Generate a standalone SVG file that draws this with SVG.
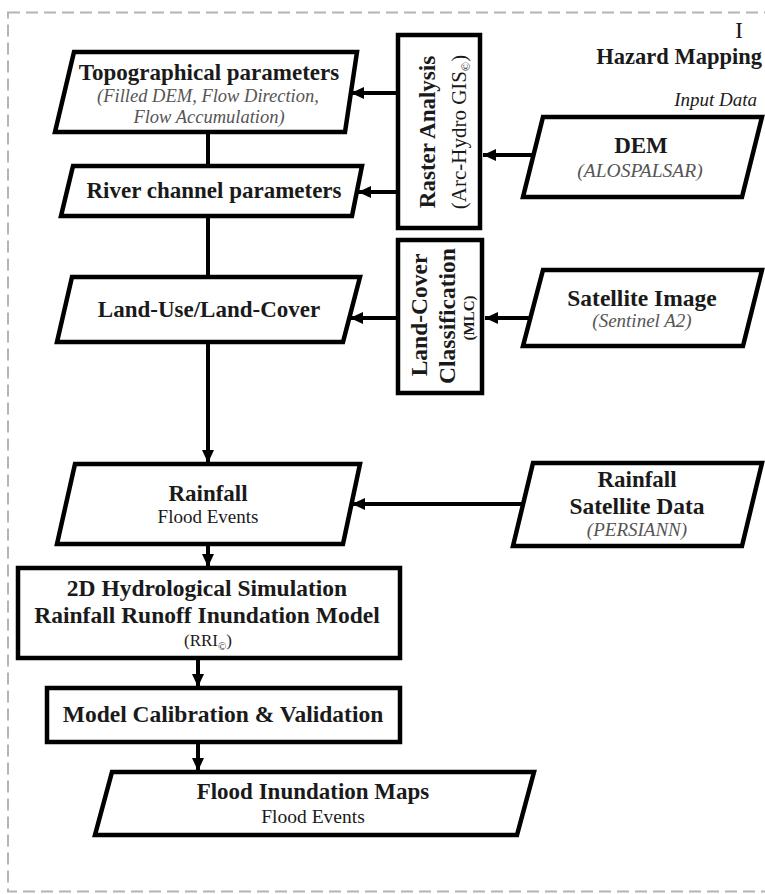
<svg xmlns="http://www.w3.org/2000/svg" width="765" height="894" viewBox="0 0 765 894">
<style>
.frame{fill:none;stroke:#b4b4b4;stroke-width:2;stroke-dasharray:12 6}
.node{fill:#fff;stroke:#000;stroke-width:4.5;stroke-linejoin:miter}
.conn{fill:none;stroke:#000;stroke-width:4}
text{font-family:"Liberation Serif","Times New Roman",serif;fill:#1a1a1a}
.b{font-weight:bold;font-size:23px;text-anchor:middle}
.i{font-style:italic;font-size:19px;fill:#555;text-anchor:middle}
.r{font-size:19px;text-anchor:middle}
</style>
<defs>
<marker id="ah" markerUnits="userSpaceOnUse" markerWidth="14" markerHeight="14" viewBox="0 0 14 14" refX="13" refY="7" orient="auto">
<path d="M0,1 L13,7 L0,13 Z" fill="#000"/>
</marker>
</defs>
<rect class="frame" x="8" y="12.5" width="780" height="879"/>
<g id="title">
<text x="739" y="38" style="font-size:24px;text-anchor:middle">I</text>
<text x="762" y="64" style="font-weight:bold;font-size:22.5px;text-anchor:end">Hazard Mapping</text>
<text x="757" y="106" style="font-style:italic;font-size:19px;text-anchor:end">Input Data</text>
</g>
<g id="connectors">
<line class="conn" x1="208" y1="132" x2="208" y2="166"/>
<line class="conn" x1="208" y1="216" x2="208" y2="277"/>
<line class="conn" x1="208" y1="342" x2="208" y2="463" marker-end="url(#ah)"/>
<line class="conn" x1="208" y1="544" x2="208" y2="567" marker-end="url(#ah)"/>
<line class="conn" x1="198" y1="658" x2="198" y2="687" marker-end="url(#ah)"/>
<line class="conn" x1="198" y1="742" x2="198" y2="771" marker-end="url(#ah)"/>
<line class="conn" x1="398" y1="93" x2="351" y2="93" marker-end="url(#ah)"/>
<line class="conn" x1="398" y1="192" x2="358" y2="192" marker-end="url(#ah)"/>
<line class="conn" x1="533" y1="155" x2="483" y2="155" marker-end="url(#ah)"/>
<line class="conn" x1="530" y1="318" x2="485" y2="318" marker-end="url(#ah)"/>
<line class="conn" x1="398" y1="318" x2="350" y2="318" marker-end="url(#ah)"/>
<line class="conn" x1="523" y1="504" x2="352" y2="504" marker-end="url(#ah)"/>
</g>
<g id="topo">
<polygon class="node" points="74,52 357,52 345,132 55,132"/>
<text class="b" x="209" y="80">Topographical parameters</text>
<text class="i" x="208" y="102" style="font-size:18.5px">(Filled DEM, Flow Direction,</text>
<text class="i" x="209" y="123" style="font-size:18.5px">Flow Accumulation)</text>
</g>
<g id="river">
<polygon class="node" points="73,166 362,166 352,216 61,216"/>
<text class="b" x="214" y="198">River channel parameters</text>
</g>
<g id="landuse">
<polygon class="node" points="72,277 360,277 343,342 57,342"/>
<text class="b" x="209" y="317">Land-Use/Land-Cover</text>
</g>
<g id="rainfall">
<polygon class="node" points="75,464 360,464 343,544 57,544"/>
<text class="b" x="208" y="501">Rainfall</text>
<text class="r" x="208" y="523">Flood Events</text>
</g>
<g id="rri">
<rect class="node" x="18" y="568" width="382" height="90"/>
<text class="b" x="207" y="596" style="font-size:23.5px">2D Hydrological Simulation</text>
<text class="b" x="207" y="623" style="font-size:23.5px">Rainfall Runoff Inundation Model</text>
<text class="r" x="208" y="646" style="font-size:17px">(RRI<tspan style="font-size:11px" baseline-shift="-4">©</tspan>)</text>
</g>
<g id="calibration">
<rect class="node" x="47" y="688" width="353" height="54"/>
<text class="b" x="223" y="722" style="font-size:23.5px">Model Calibration &amp; Validation</text>
</g>
<g id="floodmaps">
<polygon class="node" points="112,772 534,772 517,835 95,835"/>
<text class="b" x="313" y="799">Flood Inundation Maps</text>
<text class="r" x="313" y="823" style="font-size:19.5px">Flood Events</text>
</g>
<g id="raster">
<rect class="node" x="398" y="35" width="82" height="193"/>
<text class="b" transform="translate(435,132) rotate(-90)">Raster Analysis</text>
<text class="r" transform="translate(466,132) rotate(-90)" style="font-size:21px">(Arc-Hydro GIS<tspan style="font-size:12px" baseline-shift="-4">©</tspan>)</text>
</g>
<g id="landcover">
<rect class="node" x="398" y="240" width="84" height="153"/>
<text class="b" transform="translate(427,315) rotate(-90)" style="font-size:23.5px">Land-Cover</text>
<text class="b" transform="translate(455,316) rotate(-90)" style="font-size:23.5px">Classification</text>
<text class="b" transform="translate(474,318) rotate(-90)" style="font-size:15px">(MLC)</text>
</g>
<g id="dem">
<polygon class="node" points="543,117 762,117 742,197 523,197"/>
<text class="b" x="641" y="153">DEM</text>
<text class="i" x="640" y="177" style="font-size:19.5px">(ALOSPALSAR)</text>
</g>
<g id="satellite">
<polygon class="node" points="543,270 762,270 743,346 523,346"/>
<text class="b" x="642" y="306" style="font-size:23.5px">Satellite Image</text>
<text class="i" x="642" y="327">(Sentinel A2)</text>
</g>
<g id="rainsat">
<polygon class="node" points="533,463 762,463 742,546 513,546"/>
<text class="b" x="637" y="487">Rainfall</text>
<text class="b" x="637" y="514" style="font-size:23.5px">Satellite Data</text>
<text class="i" x="637" y="536">(PERSIANN)</text>
</g>
</svg>
